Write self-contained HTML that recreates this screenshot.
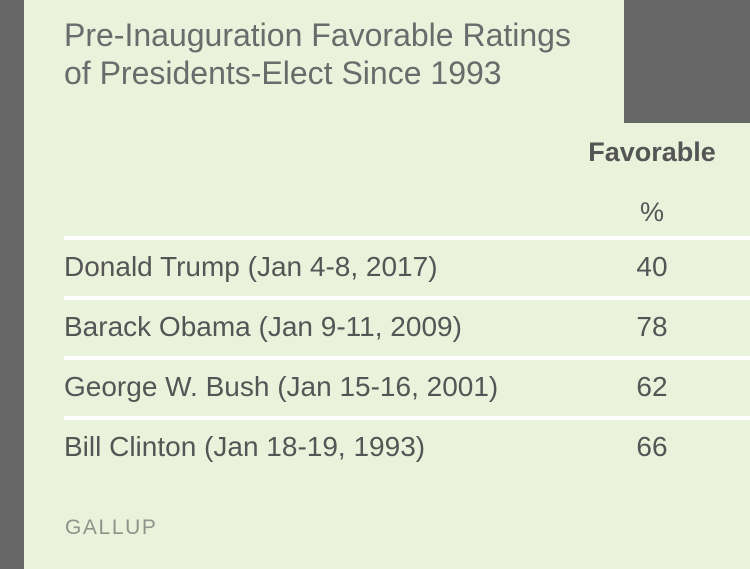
<!DOCTYPE html>
<html><head><meta charset="utf-8"><style>
html,body{margin:0;padding:0;}
body{width:750px;height:569px;overflow:hidden;position:relative;background:#ebf2dc;font-family:"Liberation Sans",Arial,sans-serif;}
.abs{position:absolute;white-space:nowrap;}
</style></head><body>
<div class="abs" style="left:0;top:0;width:24px;height:569px;background:#666;"></div>
<div class="abs" style="left:624px;top:0;width:126px;height:123px;background:#666;"></div>
<div class="abs" style="left:64px;top:16px;font-size:32px;line-height:38px;color:#6b6b6b;">Pre-Inauguration Favorable Ratings<br>of Presidents-Elect Since 1993</div>
<div class="abs" style="left:552px;width:200px;text-align:center;top:137px;font-size:27px;font-weight:bold;color:#555;">Favorable</div>
<div class="abs" style="left:552px;width:200px;text-align:center;top:197px;font-size:27px;color:#555;">%</div>
<div id="rows"></div>
<div class="abs" style="left:65px;top:516px;font-size:21px;letter-spacing:1.6px;color:#8d948a;">GALLUP</div>
<script>
const names=["Donald Trump (Jan 4-8, 2017)","Barack Obama (Jan 9-11, 2009)","George W. Bush (Jan 15-16, 2001)","Bill Clinton (Jan 18-19, 1993)"];
const values=[40,78,62,66];
const rows=document.getElementById('rows');
for(let i=0;i<names.length;i++){
  const y=236+i*60;
  const line=document.createElement('div');
  line.className='abs';
  
  
  line.style.cssText=`left:64px;top:${y}px;width:686px;height:4px;background:#fff;`;
  rows.appendChild(line);
  const n=document.createElement('div');
  n.className='abs';
  
  
  n.style.cssText=`left:64px;top:${y+15}px;font-size:28px;color:#555;`;
  n.textContent=names[i];
  rows.appendChild(n);
  const v=document.createElement('div');
  v.className='abs';
  
  
  v.style.cssText=`left:552px;width:200px;text-align:center;top:${y+15}px;font-size:28px;color:#555;`;
  v.textContent=values[i];
  rows.appendChild(v);
}
</script>
</body></html>
